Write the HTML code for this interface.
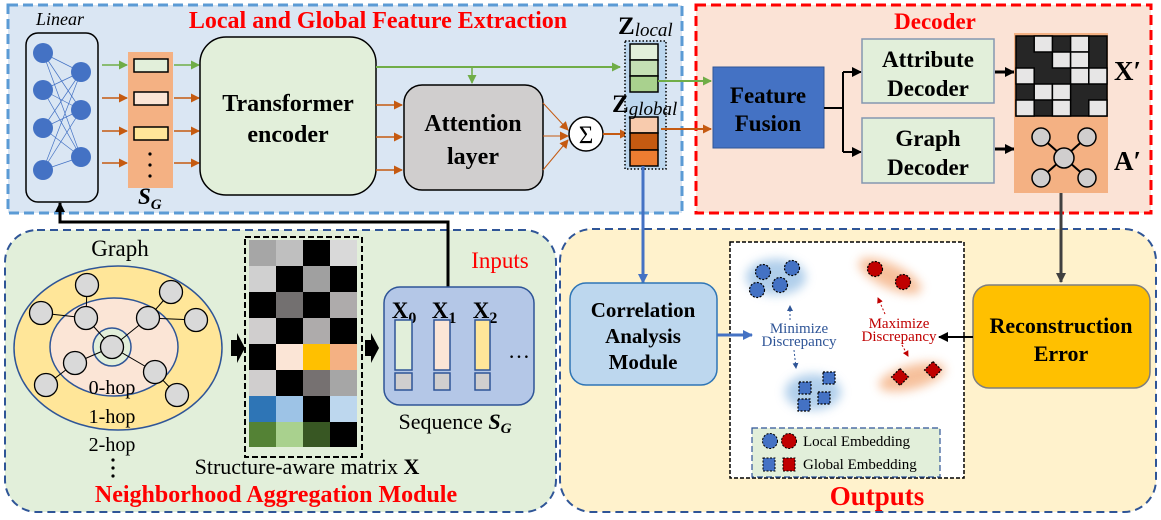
<!DOCTYPE html>
<html><head><meta charset="utf-8"><style>
html,body{margin:0;padding:0;background:#fff}
svg{display:block}
text{font-family:"Liberation Serif",serif}
.b{font-weight:bold}
</style></head><body>
<svg width="1161" height="520" viewBox="0 0 1161 520" xmlns="http://www.w3.org/2000/svg">
<defs>
<marker id="ag" markerWidth="9" markerHeight="9" refX="8" refY="4.5" orient="auto" markerUnits="userSpaceOnUse"><path d="M0,0 L9,4.5 L0,9z" fill="#70ad47"/></marker>
<marker id="ao" markerWidth="9" markerHeight="9" refX="8" refY="4.5" orient="auto" markerUnits="userSpaceOnUse"><path d="M0,0 L9,4.5 L0,9z" fill="#c55a11"/></marker>
<marker id="ak" markerWidth="10" markerHeight="10" refX="9" refY="5" orient="auto" markerUnits="userSpaceOnUse"><path d="M0,0 L10,5 L0,10z" fill="#000"/></marker>
<marker id="ad" markerWidth="10" markerHeight="10" refX="9" refY="5" orient="auto" markerUnits="userSpaceOnUse"><path d="M0,0 L10,5 L0,10z" fill="#404040"/></marker>
<marker id="ab" markerWidth="10" markerHeight="10" refX="9" refY="5" orient="auto" markerUnits="userSpaceOnUse"><path d="M0,0 L10,5 L0,10z" fill="#4472c4"/></marker>
<marker id="abs" markerWidth="6" markerHeight="6" refX="5" refY="3" orient="auto" markerUnits="userSpaceOnUse"><path d="M0,0 L6,3 L0,6z" fill="#2f5597"/></marker>
<marker id="ars" markerWidth="6" markerHeight="6" refX="5" refY="3" orient="auto" markerUnits="userSpaceOnUse"><path d="M0,0 L6,3 L0,6z" fill="#c00000"/></marker>
<filter id="bl" x="-50%" y="-50%" width="200%" height="200%"><feGaussianBlur stdDeviation="5"/></filter>
</defs>

<rect x="8" y="5" width="674" height="208" fill="#dae6f3" stroke="#5b9bd5" stroke-width="3" stroke-dasharray="10,5"/>
<rect x="696" y="5" width="455" height="208" fill="#fbe3d6" stroke="#ff0000" stroke-width="3" stroke-dasharray="10,5"/>
<rect x="5" y="230" width="551" height="282" rx="32" fill="#e2efda" stroke="#2f5597" stroke-width="2" stroke-dasharray="8,5"/>
<rect x="560" y="229" width="596" height="283" rx="32" fill="#fff2cc" stroke="#2f5597" stroke-width="2" stroke-dasharray="8,5"/>

<text x="60" y="25" font-size="18" font-style="italic" text-anchor="middle">Linear</text>
<text x="378" y="28" font-size="24" class="b" fill="#ff0000" text-anchor="middle">Local and Global  Feature Extraction</text>
<text x="935" y="29" font-size="23" class="b" fill="#ff0000" text-anchor="middle">Decoder</text>

<rect x="26" y="33" width="72" height="169" rx="12" fill="#dae6f3" stroke="#000" stroke-width="1.5"/>
<g stroke="#4472c4" stroke-width="0.7">
<path d="M43,53L81,72M43,53L81,110M43,53L81,157M43,90L81,72M43,90L81,110M43,90L81,157M43,128L81,72M43,128L81,110M43,128L81,157M43,170L81,72M43,170L81,110M43,170L81,157"/>
</g>
<g fill="#4472c4"><circle cx="43" cy="53" r="10"/><circle cx="43" cy="90" r="10"/><circle cx="43" cy="128" r="10"/><circle cx="43" cy="170" r="10"/><circle cx="81" cy="72" r="10"/><circle cx="81" cy="110" r="10"/><circle cx="81" cy="157" r="10"/></g>

<rect x="128" y="52" width="45" height="136" fill="#f4b183"/>
<rect x="134" y="59" width="34" height="13" fill="#e2efda" stroke="#000" stroke-width="1.5"/>
<rect x="134" y="92" width="34" height="13" fill="#fbe5d6" stroke="#000" stroke-width="1.5"/>
<rect x="134" y="127" width="34" height="13" fill="#ffe699" stroke="#000" stroke-width="1.5"/>
<g fill="#000"><circle cx="150" cy="154" r="1.6"/><circle cx="150" cy="165" r="1.6"/><circle cx="150" cy="176" r="1.6"/></g>
<text x="138" y="204" font-size="23" class="b" font-style="italic">S<tspan font-size="15" dy="5">G</tspan></text>

<g stroke-width="1.5">
<path d="M102,65H127" stroke="#70ad47" marker-end="url(#ag)"/>
<path d="M102,98H127" stroke="#c55a11" marker-end="url(#ao)"/>
<path d="M102,131H127" stroke="#c55a11" marker-end="url(#ao)"/>
<path d="M102,163H127" stroke="#c55a11" marker-end="url(#ao)"/>
<path d="M174,65H199" stroke="#70ad47" marker-end="url(#ag)"/>
<path d="M174,98H199" stroke="#c55a11" marker-end="url(#ao)"/>
<path d="M174,131H199" stroke="#c55a11" marker-end="url(#ao)"/>
<path d="M174,163H199" stroke="#c55a11" marker-end="url(#ao)"/>
</g>

<rect x="200" y="37" width="176" height="158" rx="26" fill="#e2efda" stroke="#000" stroke-width="1.5"/>
<text x="288" y="111" font-size="24" class="b" text-anchor="middle">Transformer</text>
<text x="288" y="142" font-size="24" class="b" text-anchor="middle">encoder</text>

<path d="M376,67H620" stroke="#70ad47" stroke-width="2" marker-end="url(#ag)"/>
<path d="M472,67V83" stroke="#70ad47" stroke-width="1.5" marker-end="url(#ag)"/>
<g stroke="#c55a11" stroke-width="1.5">
<path d="M376,105H402" marker-end="url(#ao)"/>
<path d="M376,137H402" marker-end="url(#ao)"/>
<path d="M376,170H402" marker-end="url(#ao)"/>
</g>

<rect x="404" y="85" width="139" height="105" rx="18" fill="#d0cece" stroke="#000" stroke-width="1.5"/>
<text x="473" y="131" font-size="24" class="b" text-anchor="middle">Attention</text>
<text x="473" y="164" font-size="24" class="b" text-anchor="middle">layer</text>
<g stroke="#c55a11" stroke-width="1">
<path d="M543,103L568,130" marker-end="url(#ao)"/>
<path d="M543,136H568" marker-end="url(#ao)"/>
<path d="M543,170L568,140" marker-end="url(#ao)"/>
</g>
<circle cx="586" cy="134" r="17" fill="#fff" stroke="#000" stroke-width="1.5"/>
<text x="586" y="143" font-size="25" text-anchor="middle">Σ</text>
<path d="M603,134H628" stroke="#c55a11" stroke-width="2" marker-end="url(#ao)"/>

<rect x="625" y="41" width="41" height="128" fill="#bdd7ee" stroke="#000" stroke-width="1.5" stroke-dasharray="1.5,2"/>
<rect x="630" y="44" width="28" height="16" fill="#e2efda" stroke="#000" stroke-width="1.5"/>
<rect x="630" y="60" width="28" height="16" fill="#c5e0b4" stroke="#000" stroke-width="1.5"/>
<rect x="630" y="76" width="28" height="16" fill="#a9d18e" stroke="#000" stroke-width="1.5"/>
<rect x="630" y="117" width="28" height="16" fill="#f8cbad" stroke="#000" stroke-width="1.5"/>
<rect x="630" y="133" width="28" height="17" fill="#c55a11" stroke="#000" stroke-width="1.5"/>
<rect x="630" y="150" width="28" height="16" fill="#ed7d31" stroke="#000" stroke-width="1.5"/>
<text x="618" y="34" font-size="25" class="b">Z<tspan font-size="19" font-weight="normal" font-style="italic" dy="2">local</tspan></text>
<text x="612" y="112" font-size="25" class="b">Z<tspan font-size="19" font-weight="normal" font-style="italic" dy="3">global</tspan></text>
<path d="M658,81H711" stroke="#70ad47" stroke-width="2" marker-end="url(#ag)"/>
<path d="M661,129H711" stroke="#c55a11" stroke-width="2" marker-end="url(#ao)"/>

<rect x="713" y="67" width="111" height="81" fill="#4472c4" stroke="#2f5597" stroke-width="1"/>
<text x="768" y="103" font-size="23" class="b" text-anchor="middle">Feature</text>
<text x="768" y="131" font-size="23" class="b" text-anchor="middle">Fusion</text>
<path d="M824,108H843M843,72V152" stroke="#000" stroke-width="2" fill="none"/>
<path d="M843,72H861" stroke="#000" stroke-width="2" marker-end="url(#ak)"/>
<path d="M843,152H861" stroke="#000" stroke-width="2" marker-end="url(#ak)"/>

<rect x="862" y="39" width="132" height="64" fill="#e2efda" stroke="#8497b0" stroke-width="1.5"/>
<text x="928" y="67" font-size="23" class="b" text-anchor="middle">Attribute</text>
<text x="928" y="96" font-size="23" class="b" text-anchor="middle">Decoder</text>
<rect x="862" y="118" width="132" height="65" fill="#e2efda" stroke="#8497b0" stroke-width="1.5"/>
<text x="928" y="146" font-size="23" class="b" text-anchor="middle">Graph</text>
<text x="928" y="175" font-size="23" class="b" text-anchor="middle">Decoder</text>
<path d="M995,72H1014" stroke="#000" stroke-width="3" marker-end="url(#ak)"/>
<path d="M995,149H1014" stroke="#000" stroke-width="3" marker-end="url(#ak)"/>

<rect x="1014" y="33" width="94" height="160" fill="#f4b183"/>
<g stroke="#000" stroke-width="1.5">
<rect x="1016" y="36" width="91" height="80" fill="#262626"/>
<rect x="1034.2" y="36" width="18.2" height="16" fill="#e7e6e6"/><rect x="1070.6" y="36" width="18.2" height="16" fill="#e7e6e6"/>
<rect x="1052.4" y="52" width="18.2" height="16" fill="#e7e6e6"/><rect x="1070.6" y="52" width="18.2" height="16" fill="#e7e6e6"/>
<rect x="1016" y="68" width="18.2" height="16" fill="#e7e6e6"/><rect x="1070.6" y="68" width="18.2" height="16" fill="#e7e6e6"/><rect x="1088.8" y="68" width="18.2" height="16" fill="#e7e6e6"/>
<rect x="1034.2" y="84" width="18.2" height="16" fill="#e7e6e6"/><rect x="1052.4" y="84" width="18.2" height="16" fill="#e7e6e6"/>
<rect x="1016" y="100" width="18.2" height="16" fill="#e7e6e6"/><rect x="1052.4" y="100" width="18.2" height="16" fill="#e7e6e6"/><rect x="1088.8" y="100" width="18.2" height="16" fill="#e7e6e6"/>
</g>
<path d="M1041,137L1087,178M1087,137L1041,178" stroke="#000" stroke-width="2"/>
<g fill="#d0cece" stroke="#000" stroke-width="1.5"><circle cx="1041" cy="137" r="9"/><circle cx="1087" cy="137" r="9"/><circle cx="1041" cy="178" r="9"/><circle cx="1087" cy="178" r="9"/><circle cx="1064" cy="158" r="10"/></g>
<text x="1114" y="80" font-size="27" class="b">X′</text>
<text x="1114" y="170" font-size="27" class="b">A′</text>

<path d="M448,288V222H60V203" stroke="#000" stroke-width="3" fill="none" marker-end="url(#ak)"/>
<path d="M643,166V283" stroke="#4472c4" stroke-width="3" marker-end="url(#ab)"/>
<path d="M1061,193V282" stroke="#404040" stroke-width="3" marker-end="url(#ad)"/>

<text x="120" y="256" font-size="23" text-anchor="middle">Graph</text>
<ellipse cx="118" cy="348" rx="104" ry="82" fill="#ffe699" stroke="#2f5597" stroke-width="1.5"/>
<ellipse cx="114" cy="347" rx="64" ry="49" fill="#fbe5d6" stroke="#2f5597" stroke-width="1.5"/>
<circle cx="112" cy="347" r="19" fill="#e2efda" stroke="#2f5597" stroke-width="1.5"/>
<g stroke="#000" stroke-width="1">
<path d="M87,285L86,318M41,313L86,318M86,318L112,347M171,292L148,318M148,318L196,320M148,318L112,347M112,347L75,363M75,363L46,385M112,347L155,372M155,372L177,395"/>
</g>
<g fill="#d9d9d9" stroke="#000" stroke-width="1.3">
<circle cx="87" cy="285" r="11.5"/><circle cx="41" cy="313" r="11.5"/><circle cx="86" cy="318" r="11.5"/><circle cx="171" cy="292" r="11.5"/><circle cx="148" cy="318" r="11.5"/><circle cx="196" cy="320" r="11.5"/><circle cx="112" cy="347" r="11.5"/><circle cx="75" cy="363" r="11.5"/><circle cx="46" cy="385" r="11.5"/><circle cx="155" cy="372" r="11.5"/><circle cx="177" cy="395" r="11.5"/>
</g>
<text x="112" y="394" font-size="20" text-anchor="middle">0-hop</text>
<text x="112" y="423" font-size="20" text-anchor="middle">1-hop</text>
<text x="112" y="451" font-size="20" text-anchor="middle">2-hop</text>
<g fill="#000"><circle cx="113" cy="460" r="1.6"/><circle cx="113" cy="468" r="1.6"/><circle cx="113" cy="476" r="1.6"/></g>
<path d="M231,340h6v-7l8,15l-8,15v-7h-6z" fill="#000"/>
<path d="M365,340h6v-7l8,15l-8,15v-7h-6z" fill="#000"/>

<rect x="245" y="237" width="117" height="220" fill="none" stroke="#000" stroke-width="2" stroke-dasharray="6,3"/>
<g>
<rect x="249" y="240" width="27" height="26" fill="#a6a6a6"/><rect x="276" y="240" width="27" height="26" fill="#bfbfbf"/><rect x="303" y="240" width="27" height="26" fill="#000"/><rect x="330" y="240" width="27" height="26" fill="#d9d9d9"/>
<rect x="249" y="266" width="27" height="26" fill="#d0d0d0"/><rect x="276" y="266" width="27" height="26" fill="#000"/><rect x="303" y="266" width="27" height="26" fill="#a0a0a0"/><rect x="330" y="266" width="27" height="26" fill="#000"/>
<rect x="249" y="292" width="27" height="26" fill="#000"/><rect x="276" y="292" width="27" height="26" fill="#737070"/><rect x="303" y="292" width="27" height="26" fill="#000"/><rect x="330" y="292" width="27" height="26" fill="#aeabab"/>
<rect x="249" y="318" width="27" height="26" fill="#d0cece"/><rect x="276" y="318" width="27" height="26" fill="#000"/><rect x="303" y="318" width="27" height="26" fill="#aeabab"/><rect x="330" y="318" width="27" height="26" fill="#000"/>
<rect x="249" y="344" width="27" height="26" fill="#000"/><rect x="276" y="344" width="27" height="26" fill="#fbe5d6"/><rect x="303" y="344" width="27" height="26" fill="#ffc000"/><rect x="330" y="344" width="27" height="26" fill="#f4b183"/>
<rect x="249" y="370" width="27" height="26" fill="#d0cece"/><rect x="276" y="370" width="27" height="26" fill="#000"/><rect x="303" y="370" width="27" height="26" fill="#767171"/><rect x="330" y="370" width="27" height="26" fill="#a6a6a6"/>
<rect x="249" y="396" width="27" height="26" fill="#2e75b6"/><rect x="276" y="396" width="27" height="26" fill="#9dc3e6"/><rect x="303" y="396" width="27" height="26" fill="#000"/><rect x="330" y="396" width="27" height="26" fill="#bdd7ee"/>
<rect x="249" y="422" width="27" height="25" fill="#548235"/><rect x="276" y="422" width="27" height="25" fill="#a9d18e"/><rect x="303" y="422" width="27" height="25" fill="#385723"/><rect x="330" y="422" width="27" height="25" fill="#000"/>
</g>
<text x="307" y="474" font-size="22" text-anchor="middle">Structure-aware matrix <tspan class="b">X</tspan></text>

<rect x="384" y="287" width="150" height="118" rx="16" fill="#b4c7e7" stroke="#2f5597" stroke-width="1.5"/>
<text x="404" y="318" font-size="23" class="b" text-anchor="middle">X<tspan font-size="16" dy="5">0</tspan></text>
<text x="444" y="318" font-size="23" class="b" text-anchor="middle">X<tspan font-size="16" dy="5">1</tspan></text>
<text x="485" y="318" font-size="23" class="b" text-anchor="middle">X<tspan font-size="16" dy="5">2</tspan></text>
<rect x="395" y="320" width="17" height="50" fill="#e2efda" stroke="#2f5597" stroke-width="1.5"/>
<rect x="395" y="373" width="17" height="17" fill="#d0cece" stroke="#2f5597" stroke-width="1.5"/>
<rect x="434" y="320" width="16" height="50" fill="#fbe5d6" stroke="#2f5597" stroke-width="1.5"/>
<rect x="434" y="373" width="16" height="17" fill="#d0cece" stroke="#2f5597" stroke-width="1.5"/>
<rect x="475" y="320" width="15" height="50" fill="#ffe699" stroke="#2f5597" stroke-width="1.5"/>
<rect x="475" y="373" width="15" height="17" fill="#d0cece" stroke="#2f5597" stroke-width="1.5"/>
<text x="519" y="358" font-size="22" text-anchor="middle">…</text>
<text x="455" y="429" font-size="22" text-anchor="middle">Sequence <tspan class="b" font-style="italic">S<tspan font-size="15" dy="4">G</tspan></tspan></text>
<text x="500" y="268" font-size="23" fill="#ff0000" text-anchor="middle">Inputs</text>
<text x="276" y="502" font-size="24" class="b" fill="#ff0000" text-anchor="middle">Neighborhood Aggregation Module</text>

<rect x="570" y="283" width="147" height="102" rx="16" fill="#bdd7ee" stroke="#2e75b6" stroke-width="1.5"/>
<text x="643" y="317" font-size="21" class="b" text-anchor="middle">Correlation</text>
<text x="643" y="343" font-size="21" class="b" text-anchor="middle">Analysis</text>
<text x="643" y="369" font-size="21" class="b" text-anchor="middle">Module</text>

<rect x="730" y="242" width="234" height="236" fill="#fff" stroke="#000" stroke-width="1.5" stroke-dasharray="4,2"/>
<path d="M717,335H752" stroke="#4472c4" stroke-width="3" marker-end="url(#ab)"/>
<ellipse cx="776" cy="277" rx="30" ry="18" fill="#9dc3e6" filter="url(#bl)" opacity="0.8"/>
<ellipse cx="890" cy="276" rx="34" ry="12" transform="rotate(25 890 276)" fill="#f4b183" filter="url(#bl)" opacity="0.8"/>
<ellipse cx="813" cy="392" rx="28" ry="18" fill="#9dc3e6" filter="url(#bl)" opacity="0.8"/>
<ellipse cx="912" cy="377" rx="34" ry="12" transform="rotate(-15 912 377)" fill="#f4b183" filter="url(#bl)" opacity="0.8"/>
<g fill="#4472c4" stroke="#000" stroke-width="1.2" stroke-dasharray="2,1.5">
<circle cx="763" cy="272" r="7.5"/><circle cx="792" cy="268" r="7.5"/><circle cx="757" cy="290" r="7.5"/><circle cx="780" cy="285" r="7.5"/>
<rect x="799" y="382" width="12" height="12"/><rect x="823" y="372" width="12" height="12"/><rect x="818" y="392" width="12" height="12"/><rect x="798" y="399" width="12" height="12"/>
</g>
<g fill="#c00000" stroke="#000" stroke-width="1.2" stroke-dasharray="2,1.5">
<circle cx="875" cy="269" r="7.5"/><circle cx="903" cy="282" r="7.5"/>
<rect x="894" y="371" width="12" height="12" transform="rotate(45 900 377)"/><rect x="927" y="364" width="12" height="12" transform="rotate(45 933 370)"/>
</g>
<text x="799" y="333" font-size="15" fill="#2f5597" text-anchor="middle">Minimize</text>
<text x="799" y="346" font-size="15" fill="#2f5597" text-anchor="middle">Discrepancy</text>
<path d="M790,320V306" stroke="#2f5597" stroke-width="1" stroke-dasharray="2,2" marker-end="url(#abs)"/>
<path d="M794,350L796,368" stroke="#2f5597" stroke-width="1" stroke-dasharray="2,2" marker-end="url(#abs)"/>
<text x="899" y="328" font-size="15" fill="#c00000" text-anchor="middle">Maximize</text>
<text x="899" y="341" font-size="15" fill="#c00000" text-anchor="middle">Discrepancy</text>
<path d="M885,314L878,298" stroke="#c00000" stroke-width="1" stroke-dasharray="2,2" marker-end="url(#ars)"/>
<path d="M902,345L908,356" stroke="#c00000" stroke-width="1" stroke-dasharray="2,2" marker-end="url(#ars)"/>

<rect x="752" y="428" width="188" height="49" fill="#e2efda" stroke="#2f5597" stroke-width="1.2" stroke-dasharray="6,3"/>
<circle cx="770" cy="441" r="7.5" fill="#4472c4" stroke="#000" stroke-dasharray="2,1.5"/>
<circle cx="789" cy="441" r="7.5" fill="#c00000" stroke="#000" stroke-dasharray="2,1.5"/>
<text x="803" y="446" font-size="15">Local Embedding</text>
<rect x="763" y="458" width="12" height="13" fill="#4472c4" stroke="#000" stroke-dasharray="2,1.5"/>
<rect x="783" y="458" width="12" height="13" fill="#c00000" stroke="#000" stroke-dasharray="2,1.5"/>
<text x="803" y="469" font-size="15">Global Embedding</text>

<rect x="973" y="285" width="177" height="103" rx="16" fill="#ffc000" stroke="#7f7f7f" stroke-width="1.5"/>
<text x="1061" y="333" font-size="22" class="b" text-anchor="middle">Reconstruction</text>
<text x="1061" y="361" font-size="22" class="b" text-anchor="middle">Error</text>
<path d="M973,337H939" stroke="#000" stroke-width="2" marker-end="url(#ak)"/>
<text x="877" y="505" font-size="27" class="b" fill="#ff0000" text-anchor="middle">Outputs</text>
</svg>
</body></html>
